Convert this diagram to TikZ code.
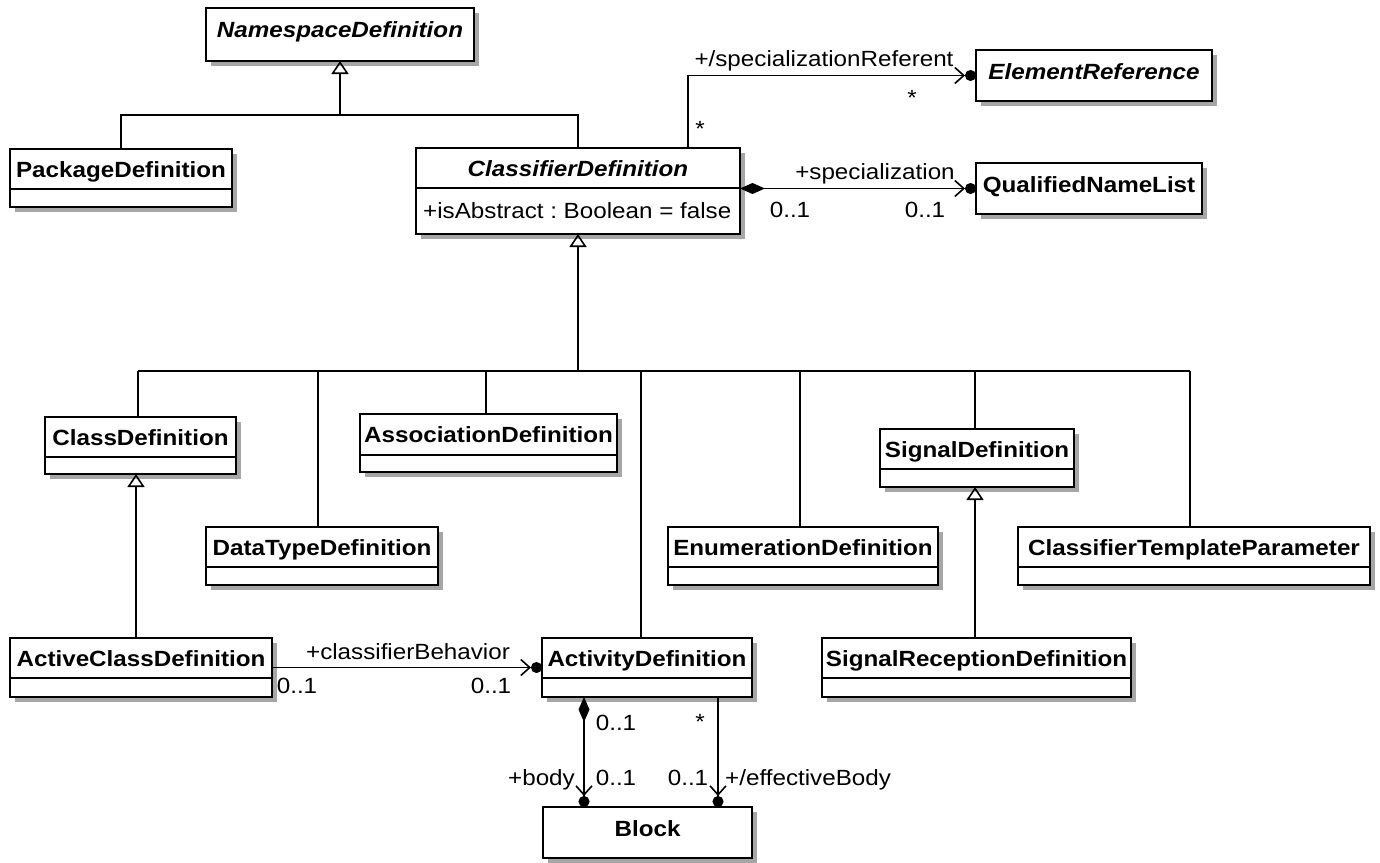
\documentclass[tikz,border=0pt]{standalone}
\usepackage{fontspec}
\setmainfont{Liberation Sans}[FakeStretch=1.1]
\usetikzlibrary{arrows.meta,shadows,calc}
\frenchspacing
\newcommand\txtsize{\fontsize{22}{26}\selectfont}
\tikzset{
  clsbox/.style={draw, line width=2pt, fill=white, rectangle, inner sep=0pt, outer sep=0pt,
    anchor=north west,
    drop shadow={shadow xshift=5pt, shadow yshift=-5pt, fill=black!35, opacity=1}},
  cname/.style={font=\txtsize\bfseries, inner sep=0pt, anchor=base},
  aname/.style={font=\txtsize\bfseries\itshape, inner sep=0pt, anchor=base},
  lbl/.style={font=\txtsize, inner sep=0pt, anchor=base},
  conn/.style={line width=1.6pt},
  gen/.style={conn, -{Triangle[open, length=13pt, width=17pt, line width=1.6pt]}},
  nav/.style={conn, -{Straight Barb[length=9pt, width=16pt, line width=1.6pt] Circle[length=11pt]}},
  comp/.style={conn, {Diamond[length=25pt, width=11pt]}-{Straight Barb[length=9pt, width=16pt, line width=1.6pt] Circle[length=11pt]}},
}
% id, x1, y1, x2, y2, separator y, name style, name
\newcommand\umltwo[8]{%
  \node[clsbox, minimum width={(#4)-(#2)}, minimum height={(#5)-(#3)}] (#1) at (#2,#3) {};
  \draw[line width=2pt] (#2,#6) -- (#4,#6);
  \node[#7] (#1-name) at ({((#2)+(#4))/2},{(#3)+28}) {#8};
}
% id, x1, y1, x2, y2, name style, name
\newcommand\umlone[7]{%
  \node[clsbox, minimum width={(#4)-(#2)}, minimum height={(#5)-(#3)}] (#1) at (#2,#3) {};
  \node[#6] (#1-name) at ({((#2)+(#4))/2},{(#3)+29}) {#7};
}
\begin{document}
\begin{tikzpicture}[x=1pt, y=-1pt]
\useasboundingbox (0,0) rectangle (1380,862);
\fill[white] (0,0) rectangle (1380,862);

% ---- boxes ----
\umlone{ns}{206}{8}{474}{61}{aname}{NamespaceDefinition}
\umltwo{pkg}{10}{149}{232}{207}{189}{cname}{PackageDefinition}
\umltwo{cdef}{416}{148}{740}{234}{188}{aname}{ClassifierDefinition}
\node[lbl, anchor=base west] (cdef-attr) at (423,218) {+isAbstract : Boolean = false};
\umlone{eref}{976}{50}{1212}{101}{aname}{ElementReference}
\umlone{qnl}{976}{163}{1202}{214}{cname}{QualifiedNameList}

\umltwo{classdef}{45}{417}{236}{474}{457}{cname}{ClassDefinition}
\umltwo{assoc}{360}{414}{617}{472}{455}{cname}{AssociationDefinition}
\umltwo{dtype}{206}{527}{438}{585}{567}{cname}{DataTypeDefinition}
\umltwo{enum}{668}{527}{938}{585}{567}{cname}{EnumerationDefinition}
\umltwo{sig}{880}{429}{1074}{487}{469}{cname}{SignalDefinition}
\umltwo{ctp}{1018}{527}{1370}{585}{567}{cname}{ClassifierTemplateParameter}
\umltwo{acd}{10}{638}{272}{697}{678}{cname}{ActiveClassDefinition}
\umltwo{act}{542}{638}{752}{697}{678}{cname}{ActivityDefinition}
\umltwo{srd}{822}{638}{1131}{697}{678}{cname}{SignalReceptionDefinition}
\umlone{block}{543}{807}{752}{858}{cname}{Block}

% ---- generalization: NamespaceDefinition ----
\coordinate (j1) at (340,115);
\draw[conn] (pkg.north) |- (j1);
\draw[conn] (cdef.north) |- (j1);
\draw[gen] (j1) -- (ns.south);

% ---- generalization: ClassifierDefinition ----
\coordinate (j2) at (578,371);
\draw[gen] (j2) -- (cdef.south);
\coordinate (tA) at ([xshift=93pt]classdef.north west);
\coordinate (tB) at ([xshift=112pt]dtype.north west);
\coordinate (tC) at ([xshift=126pt]assoc.north west);
\coordinate (tD) at ([xshift=99pt]act.north west);
\coordinate (tE) at ([xshift=132pt]enum.north west);
\coordinate (tF) at ([xshift=95pt]sig.north west);
\coordinate (tG) at ([xshift=172pt]ctp.north west);
\draw[conn] (tA |- j2) -- (tG |- j2);
\foreach \t in {tA,tB,tC,tD,tE,tF,tG} { \draw[conn] (\t |- j2) -- (\t); }

% ---- ClassDefinition <- ActiveClassDefinition ----
\coordinate (acdTop) at ([xshift=126pt]acd.north west);
\draw[gen] (acdTop) -- (acdTop |- classdef.south);
% ---- SignalDefinition <- SignalReceptionDefinition ----
\coordinate (srdTop) at ([xshift=153pt]srd.north west);
\draw[gen] (srdTop) -- (srdTop |- sig.south);

% ---- specializationReferent ----
\coordinate (srStart) at ([xshift=272pt]cdef.north west);
\draw[nav] (srStart) |- (eref.west);
\node[lbl] (l-sr) at (824,66) {+/specializationReferent};
\node[lbl] (l-sr1) at (912,105) {*};
\node[lbl] (l-sr2) at (700,136) {*};

% ---- specialization ----
\draw[comp] (qnl.west -| cdef.east) -- (qnl.west);
\node[lbl] (l-sp) at (875,179) {+specialization};
\node[lbl] (l-sp1) at (790,217) {0..1};
\node[lbl] (l-sp2) at (925,217) {0..1};

% ---- classifierBehavior ----
\draw[nav] (acd.east) -- (act.west);
\node[lbl] (l-cb) at (408,659) {+classifierBehavior};
\node[lbl] (l-cb1) at (297,693) {0..1};
\node[lbl] (l-cb2) at (491,693) {0..1};

% ---- body ----
\coordinate (bodyTop) at ([xshift=42pt]act.south west);
\draw[comp] (bodyTop) -- (bodyTop |- block.north);
\node[lbl] (l-b1) at (616,730) {0..1};
\node[lbl, anchor=base east] (l-b) at (575,785) {+body};
\node[lbl] (l-b2) at (616,785) {0..1};

% ---- effectiveBody ----
\coordinate (effTop) at ([xshift=176pt]act.south west);
\draw[nav] (effTop) -- (effTop |- block.north);
\node[lbl] (l-e1) at (700,729) {*};
\node[lbl] (l-e2) at (688,785) {0..1};
\node[lbl, anchor=base west] (l-e) at (725,785) {+/effectiveBody};
\end{tikzpicture}
\end{document}
